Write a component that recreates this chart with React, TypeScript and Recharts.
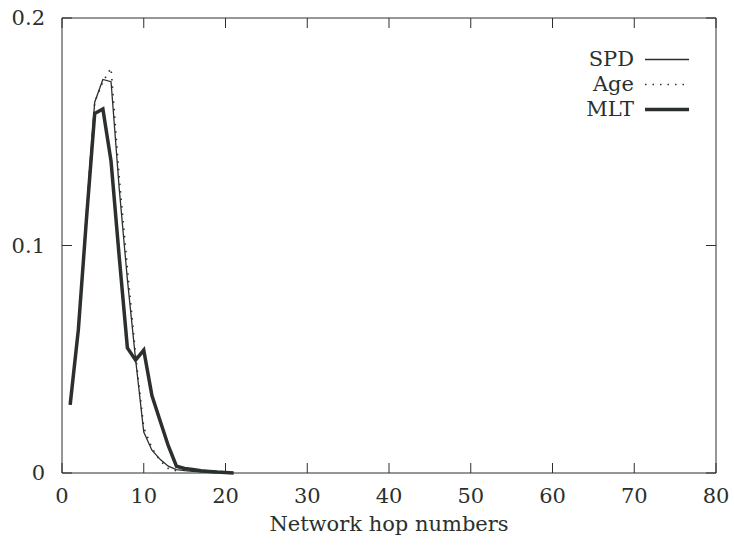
import React from "react";
import { LineChart, Line, XAxis, YAxis, ReferenceLine } from "recharts";

const hops = [1, 2, 3, 4, 5, 6, 7, 8, 9, 10, 11, 12, 13, 14, 15, 16, 17, 18, 19, 20, 21];
const spd = [0.03, 0.063, 0.115, 0.163, 0.173, 0.172, 0.125, 0.085, 0.05, 0.018, 0.01, 0.006, 0.003, 0.0015, 0.001, 0.0007, 0.0005, 0.0003, 0.0002, 0.0001, null];
const age = [0.03, 0.063, 0.115, 0.163, 0.172, 0.178, 0.13, 0.09, 0.052, 0.02, 0.011, 0.0055, 0.002, 0.001, null, null, null, null, null, null, null];
const mlt = [0.03, 0.063, 0.112, 0.158, 0.16, 0.137, 0.095, 0.055, 0.0496, 0.054, 0.034, 0.023, 0.012, 0.003, 0.002, 0.0015, 0.001, 0.0007, 0.0004, 0.0002, 0];
const xTicks = [0, 10, 20, 30, 40, 50, 60, 70, 80];
const yTicks = [0, 0.1, 0.2];

const data = hops.map((h, i) => ({ hop: h, spd: spd[i], age: age[i], mlt: mlt[i] }));

const ink = "#2b302d";
const font = "DejaVu Serif";
const fs = 21;

// plot box (for the mirrored inward ticks on top/right)
const M = { top: 18, right: 18, bottom: 16, left: 0 };
const W = 734;
const H = 549;
const Y_AXIS_W = 62;
const X_AXIS_H = 60;
const PLOT_TOP = M.top;
const PLOT_RIGHT = W - M.right;
const TICK = 10;

const XTick = (props: any) => {
  const { x, y, payload } = props;
  return (
    <g>
      <line x1={x} x2={x} y1={y} y2={y - TICK} stroke={ink} />
      <line x1={x} x2={x} y1={PLOT_TOP} y2={PLOT_TOP + TICK} stroke={ink} />
      <text x={x} y={y + 30} textAnchor="middle" fill={ink} fontFamily={font} fontSize={fs}>
        {payload.value}
      </text>
    </g>
  );
};

const YTick = (props: any) => {
  const { x, y, payload } = props;
  return (
    <g>
      <line x1={x} x2={x + TICK} y1={y} y2={y} stroke={ink} />
      <line x1={PLOT_RIGHT} x2={PLOT_RIGHT - TICK} y1={y} y2={y} stroke={ink} />
      <text x={x - 17} y={y + 7} textAnchor="end" fill={ink} fontFamily={font} fontSize={fs}>
        {payload.value}
      </text>
    </g>
  );
};

const legendRows = [
  { name: "SPD", width: 1.3, dash: undefined },
  { name: "Age", width: 1.6, dash: "1.5 6" },
  { name: "MLT", width: 3.5, dash: undefined },
];

const PlotLegend = () => (
  <div style={{ position: "absolute", top: 47, left: 480, width: 210, fontFamily: font, fontSize: fs, color: ink, lineHeight: "25px" }}>
    {legendRows.map((r) => (
      <div key={r.name} style={{ display: "flex", alignItems: "center", justifyContent: "flex-end" }}>
        <span>{r.name}</span>
        <svg width={56} height={25}>
          <line x1={11} x2={55} y1={12.5} y2={12.5} stroke={ink} strokeWidth={r.width} strokeDasharray={r.dash} />
        </svg>
      </div>
    ))}
  </div>
);

export default function App() {
  return (
    <div style={{ position: "fixed", left: 0, top: 0, width: W, height: H, background: "#fff" }}>
      <LineChart width={W} height={H} data={data} margin={M}>
        <XAxis
          dataKey="hop"
          type="number"
          domain={[0, 80]}
          ticks={xTicks}
          tickLine={false}
          tickSize={0}
          tickMargin={0}
          height={X_AXIS_H}
          stroke={ink}
          tick={<XTick />}
          label={{ value: "Network hop numbers", position: "insideBottom", offset: 2, fill: ink, fontFamily: font, fontSize: fs }}
        />
        <YAxis
          type="number"
          domain={[0, 0.2]}
          ticks={yTicks}
          tickLine={false}
          tickSize={0}
          tickMargin={0}
          width={Y_AXIS_W}
          stroke={ink}
          tick={<YTick />}
        />
        <ReferenceLine x={80} stroke={ink} ifOverflow="extendDomain" />
        <ReferenceLine y={0.2} stroke={ink} ifOverflow="extendDomain" />
        <Line dataKey="spd" name="SPD" stroke={ink} strokeWidth={1.3} dot={false} isAnimationActive={false} />
        <Line dataKey="age" name="Age" stroke={ink} strokeWidth={1.6} strokeDasharray="1.5 6" dot={false} isAnimationActive={false} />
        <Line dataKey="mlt" name="MLT" stroke={ink} strokeWidth={3.5} dot={false} isAnimationActive={false} />
      </LineChart>
      <PlotLegend />
    </div>
  );
}
